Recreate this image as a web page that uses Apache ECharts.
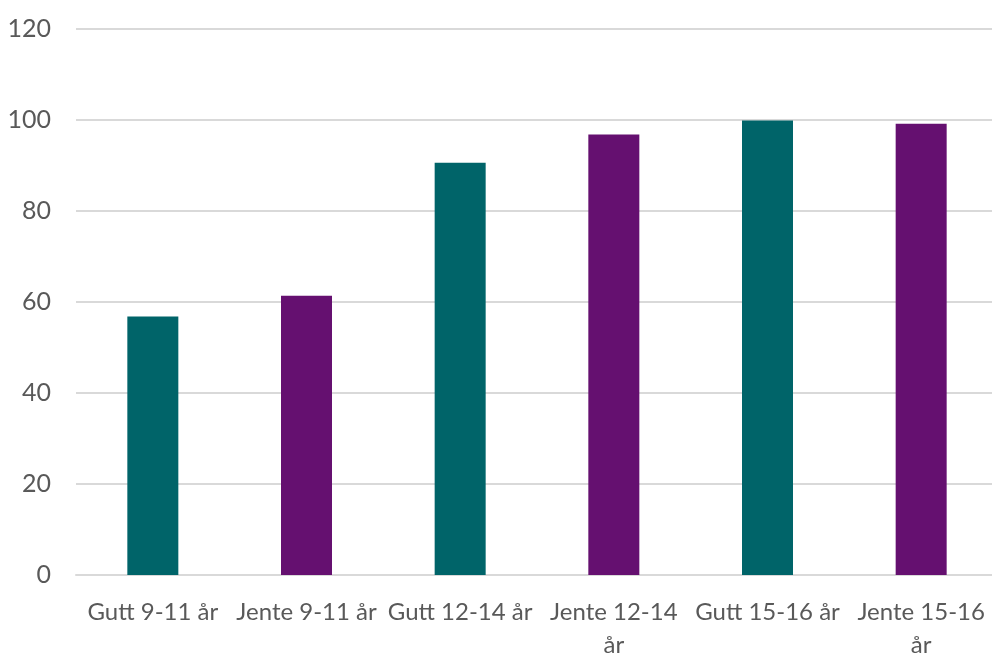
<!DOCTYPE html>
<html>
<head>
<meta charset="utf-8">
<script src="https://cdn.jsdelivr.net/npm/echarts@6/dist/echarts.min.js"></script>
<style>
html,body{margin:0;padding:0;background:#fff;}
#chart{width:992px;height:653px;}
</style>
</head>
<body>
<div id="chart"></div>
<script>
const categories = ['Gutt 9-11 år', 'Jente 9-11 år', 'Gutt 12-14 år', 'Jente 12-14 år', 'Gutt 15-16 år', 'Jente 15-16 år'];
const values = [56.8, 61.4, 90.6, 96.8, 99.9, 99.2];
const barColors = ['#006469', '#651070', '#006469', '#651070', '#006469', '#651070'];
const yTicks = [0, 20, 40, 60, 80, 100, 120];

const chart = echarts.init(document.getElementById('chart'));
chart.setOption({
  animation: false,
  backgroundColor: '#ffffff',
  grid: { left: 76, top: 29, width: 922, height: 546, containLabel: false, outerBoundsMode: 'none' },
  xAxis: {
    type: 'category',
    data: categories,
    axisLine: { show: true, lineStyle: { color: '#d9d9d9', width: 2 } },
    axisTick: { show: false },
    axisLabel: {
      interval: 0,
      hideOverlap: false,
      color: '#595959',
      fontFamily: 'Lato',
      fontSize: 24,
      margin: 21,
      lineHeight: 33,
      // wrap labels that are too wide for the category band (as in the original)
      formatter: (v) => v.length > 13 ? v.replace(/ år$/, '\når') : v
    }
  },
  yAxis: {
    type: 'value',
    min: yTicks[0],
    max: yTicks[yTicks.length - 1],
    interval: 20,
    axisLine: { show: false },
    axisTick: { show: false },
    splitLine: { lineStyle: { color: '#d9d9d9', width: 2 } },
    axisLabel: {
      color: '#595959',
      fontFamily: 'Lato',
      fontSize: 25,
      margin: 25
    }
  },
  series: [{
    type: 'bar',
    barWidth: 51,
    data: values.map((v, i) => ({ value: v, itemStyle: { color: barColors[i] } }))
  }]
});
</script>
</body>
</html>
